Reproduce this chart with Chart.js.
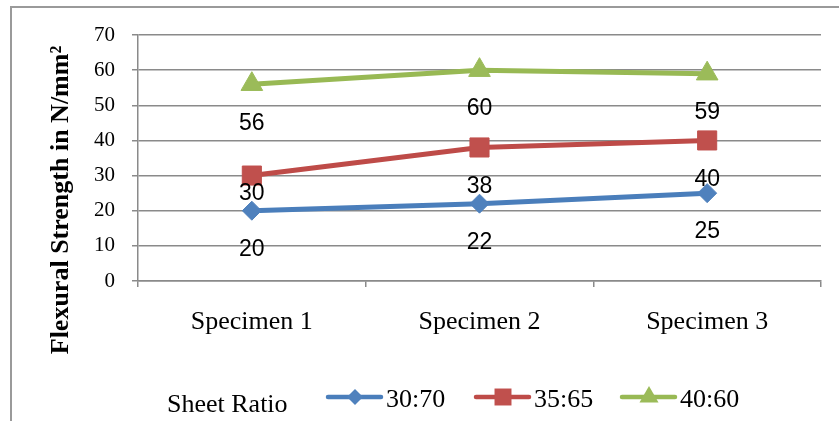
<!DOCTYPE html>
<html>
<head>
<meta charset="utf-8">
<script src="https://cdn.jsdelivr.net/npm/chart.js@4/dist/chart.umd.min.js"></script>
<style>
html,body{margin:0;padding:0;background:#fff;}
#wrap{width:839px;height:421px;position:relative;}
</style>
</head>
<body>
<div id="wrap"><canvas id="grafico" width="839" height="421"></canvas></div>
<script>
const categorias = ["Specimen 1", "Specimen 2", "Specimen 3"];
const serieNomes = ["30:70", "35:65", "40:60"];
const valores3070 = [20, 22, 25];
const valores3565 = [30, 38, 40];
const valores4060 = [56, 60, 59];
const yTicks = [0, 10, 20, 30, 40, 50, 60, 70];
const tituloY = "Flexural Strength in N/mm²";
const tituloLegenda = "Sheet Ratio";

const SERIF = "'Liberation Serif','Times New Roman',serif";
const SANS = "'Liberation Sans',Arial,sans-serif";
const cinza = "#8a8a8a";

const cores = ["#4A7EBB", "#BE4B48", "#98B954"];
const fills = ["#4F81BD", "#C0504D", "#9BBB59"];
const formas = ["rectRot", "rect", "triangle"];
const raios = [9.5, 13.5, 12.5];

// frame + y title
const molduraPlugin = {
  id: "moldura",
  beforeDraw(chart){
    const ctx = chart.ctx;
    ctx.save();
    ctx.strokeStyle = "#9a9a9a";
    ctx.lineWidth = 2;
    ctx.beginPath();
    ctx.moveTo(839, 7);
    ctx.lineTo(11, 7);
    ctx.lineTo(11, 421);
    ctx.stroke();
    ctx.restore();
  },
  afterDraw(chart){
    const ctx = chart.ctx;
    ctx.save();
    ctx.font = "bold 26px " + SERIF;
    ctx.fillStyle = "#000";
    ctx.translate(61, 200);
    ctx.rotate(-Math.PI/2);
    ctx.textAlign = "center";
    ctx.textBaseline = "middle";
    ctx.fillText(tituloY, 0, 0);
    ctx.restore();
  }
};

// value labels under each point (the first 35:65 label sits closer, as in the original)
const rotulosPlugin = {
  id: "rotulos",
  afterDatasetsDraw(chart){
    const ctx = chart.ctx;
    ctx.save();
    ctx.font = "23px " + SANS;
    ctx.fillStyle = "#000";
    ctx.textAlign = "center";
    ctx.textBaseline = "middle";
    chart.data.datasets.forEach((ds, i) => {
      const meta = chart.getDatasetMeta(i);
      meta.data.forEach((pt, j) => {
        const dy = (i === 1 && j === 0) ? 18 : 39;
        ctx.fillText(String(ds.data[j]), pt.x, pt.y + dy);
      });
    });
    ctx.restore();
  }
};

function marcador(ctx, forma, x, y, r, cor){
  ctx.fillStyle = cor;
  ctx.beginPath();
  if(forma === "rectRot"){
    ctx.moveTo(x, y - r); ctx.lineTo(x + r, y); ctx.lineTo(x, y + r); ctx.lineTo(x - r, y);
  } else if(forma === "rect"){
    const s = r * Math.SQRT1_2;
    ctx.rect(x - s, y - s, 2*s, 2*s);
  } else {
    ctx.moveTo(x, y - r);
    ctx.lineTo(x + r*0.866, y + r*0.5);
    ctx.lineTo(x - r*0.866, y + r*0.5);
  }
  ctx.closePath();
  ctx.fill();
}

// legend at bottom with "Sheet Ratio" caption on the left
const legendaPlugin = {
  id: "legenda",
  afterDraw(chart){
    const ctx = chart.ctx;
    ctx.save();
    ctx.fillStyle = "#000";
    ctx.font = "26px " + SERIF;
    ctx.textBaseline = "alphabetic";
    ctx.textAlign = "left";
    ctx.fillText(tituloLegenda, 167, 412);
    const inicio = [328, 476, 622];
    const yl = 397;
    chart.data.datasets.forEach((ds, i) => {
      const x0 = inicio[i];
      ctx.strokeStyle = cores[i];
      ctx.lineWidth = 4.5;
      ctx.lineCap = "round";
      ctx.beginPath();
      ctx.moveTo(x0, yl);
      ctx.lineTo(x0 + 53, yl);
      ctx.stroke();
      marcador(ctx, formas[i], x0 + 27, yl, [8, 12, 11][i], fills[i]);
      ctx.fillStyle = "#000";
      ctx.fillText(ds.label, x0 + 58, 407);
    });
    ctx.restore();
  }
};

const series = [valores3070, valores3565, valores4060];

chart = new Chart(document.getElementById("grafico"), {
  type: "line",
  data: {
    labels: categorias,
    datasets: series.map((vals, i) => ({
      label: serieNomes[i],
      data: vals,
      borderColor: cores[i],
      backgroundColor: fills[i],
      borderWidth: 5,
      pointStyle: formas[i],
      pointRadius: raios[i],
      pointHoverRadius: raios[i],
      pointBackgroundColor: fills[i],
      pointBorderColor: fills[i],
      pointBorderWidth: 1,
      tension: 0,
      fill: false
    }))
  },
  options: {
    responsive: false,
    animation: false,
    events: [],
    layout: { padding: { top: 35, right: 18, left: 0, bottom: 0 } },
    plugins: {
      legend: { display: false },
      tooltip: { enabled: false }
    },
    scales: {
      x: {
        offset: true,
        afterFit(scale){ scale.height = 140; },
        grid: {
          offset: true,
          drawOnChartArea: false,
          drawTicks: true,
          tickLength: 6,
          color: cinza,
          lineWidth: 1.5
        },
        border: { color: cinza, width: 1.5 },
        ticks: { color: "#000", font: { family: SERIF, size: 26 }, padding: 20, maxRotation: 0 }
      },
      y: {
        min: 0,
        max: 70,
        afterFit(scale){ scale.width = 138; },
        afterBuildTicks(scale){ scale.ticks = yTicks.map(v => ({ value: v })); },
        grid: { color: cinza, lineWidth: 1.5, tickLength: 6 },
        border: { color: cinza, width: 1.5 },
        ticks: { color: "#000", font: { family: SERIF, size: 21 }, padding: 17 }
      }
    }
  },
  plugins: [molduraPlugin, rotulosPlugin, legendaPlugin]
});
</script>
</body>
</html>
